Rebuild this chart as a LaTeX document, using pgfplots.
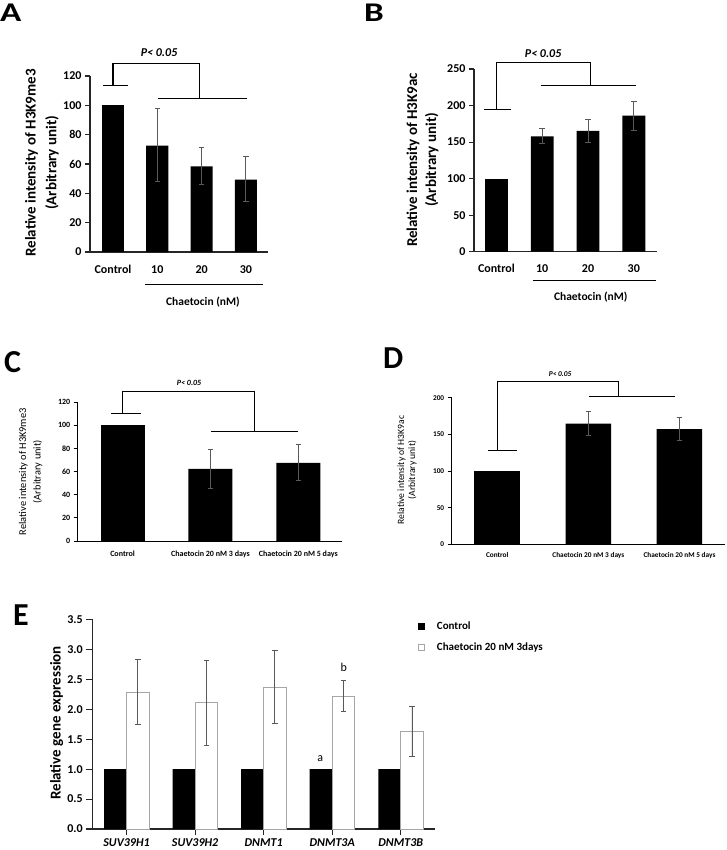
\documentclass[border=0pt]{standalone}
\usepackage{pgfplots}
\pgfplotsset{compat=1.18}
\usepackage{fontspec}
\setmainfont{Carlito}
\definecolor{errgray}{gray}{0.35}
\definecolor{bargray}{gray}{0.65}
\pgfplotsset{
  panel/.style={
    scale only axis, anchor=south west,
    axis x line=bottom, axis y line=left,
    axis line style={-, line width=1.1pt, black!85},
    tick align=outside, major tick length=5pt,
    ytick style={line width=1.1pt, black!85},
    xtick style={draw=none},
    clip=false, ymin=0,
    /pgf/number format/assume math mode=true,
    ybar, bar width=0.5, bar shift=0pt,
    ylabel style={anchor=center, align=center},
  },
  eb/.style={error bars/.cd, y dir=both, y explicit,
    error bar style={line width=0.8pt, errgray},
    error mark options={rotate=90, mark size=2.8pt, line width=0.8pt, errgray}},
}
\begin{document}
\begin{tikzpicture}
\useasboundingbox (0pt,0pt) rectangle (726pt,-850pt);

% ---------------- Panel A ----------------
\node[anchor=base west, inner sep=0, font=\bfseries\fontsize{27}{30}\selectfont] at (0pt,-21.7pt) {\scalebox{1.3}[1]{A}};
\begin{axis}[panel, at={(90pt,-252pt)}, width=178pt, height=176pt,
  xmin=-0.52, xmax=3.5, ymax=120, ytick={0,20,...,120},
  xtick={0,1,2,3}, xticklabels={Control,10,20,30},
  ticklabel style={font=\bfseries\fontsize{12}{14}\selectfont},
  xticklabel style={yshift=-5pt},
  ylabel={Relative intensity of H3K9me3\\(Arbitrary unit)},
  ylabel style={at={(axis description cs:-0.27,0.506)}, font=\bfseries\fontsize{15}{20.6}\selectfont}]
\addplot[fill=black, draw=none, eb] table[x=x, y=y, y error plus=ep, y error minus=em] {
x y ep em
1 72.5 25.2 24.5
2 58.4 12.7 12.3
3 49.3 15.7 15.0
};
\addplot[fill=black, draw=none] table[x=x, y=y] {
x y
0 100
};
\draw[line width=1.3pt] (axis cs:0,113.3) -- (axis cs:0,128.6) -- (axis cs:1.96,128.6) -- (axis cs:1.96,104.8);
\draw[line width=1.3pt] (axis cs:-0.23,113.3) -- (axis cs:0.33,113.3);
\draw[line width=1.3pt] (axis cs:1.02,104.8) -- (axis cs:3.02,104.8);
\node[font=\bfseries\itshape\fontsize{12}{14}\selectfont] at (axis cs:1.04,135.7) {P< 0.05};
\draw[line width=0.9pt] (axis cs:0.72,-21.8) -- (axis cs:3.39,-21.8);
\node[font=\bfseries\fontsize{11.5}{14}\selectfont] at (axis cs:2.03,-33.9) {Chaetocin (nM)};
\end{axis}

% ---------------- Panel B ----------------
\node[anchor=base west, inner sep=0, font=\bfseries\fontsize{27}{30}\selectfont] at (364pt,-21.7pt) {\scalebox{1.3}[1]{B}};
\begin{axis}[panel, at={(474pt,-251.7pt)}, width=182.7pt, height=182.7pt,
  xmin=-0.49, xmax=3.5, ymax=250, ytick={0,50,...,250},
  xtick={0,1,2,3}, xticklabels={Control,10,20,30},
  ticklabel style={font=\bfseries\fontsize{12}{14}\selectfont},
  xticklabel style={yshift=-4pt},
  ylabel={Relative intensity of H3K9ac\\(Arbitrary unit)},
  ylabel style={at={(axis description cs:-0.282,0.502)}, font=\bfseries\fontsize{15}{19}\selectfont}]
\addplot[fill=black, draw=none, eb] table[x=x, y=y, y error plus=ep, y error minus=em] {
x y ep em
1 157.9 11.0 10.1
2 165.2 16.0 15.5
3 186.1 20.1 20.0
};
\addplot[fill=black, draw=none] table[x=x, y=y] {
x y
0 100
};
\draw[line width=1.3pt] (axis cs:0,194.3) -- (axis cs:0,258.7) -- (axis cs:2.05,258.7) -- (axis cs:2.05,227.7);
\draw[line width=1.3pt] (axis cs:-0.27,194.3) -- (axis cs:0.31,194.3);
\draw[line width=1.3pt] (axis cs:0.97,227.7) -- (axis cs:3.04,227.7);
\node[font=\bfseries\itshape\fontsize{12}{14}\selectfont] at (axis cs:1.02,270.6) {P< 0.05};
\draw[line width=0.9pt] (axis cs:0.80,-39.1) -- (axis cs:3.48,-39.1);
\node[font=\bfseries\fontsize{11.5}{14}\selectfont] at (axis cs:2.06,-62.4) {Chaetocin (nM)};
\end{axis}

% ---------------- Panel C ----------------
\node[anchor=base west, inner sep=0, font=\bfseries\fontsize{32}{36}\selectfont] at (4pt,-372.5pt) {C};
\begin{axis}[panel, at={(77.7pt,-541pt)}, width=264.6pt, height=139pt,
  axis line style={-, line width=0.9pt, black},
  ytick style={line width=0.9pt, black}, major tick length=4pt,
  xmin=-0.51, xmax=2.5, ymax=120, ytick={0,20,...,120},
  xtick={0,1,2}, xticklabels={Control,Chaetocin 20 nM 3 days,Chaetocin 20 nM 5 days},
  ticklabel style={font=\bfseries\fontsize{8}{10}\selectfont},
  xticklabel style={yshift=-2pt},
  ylabel={Relative intensity of H3K9me3\\(Arbitrary unit)},
  ylabel style={at={(axis description cs:-0.178,0.499)}, font=\fontsize{10.4}{14.4}\selectfont}]
\addplot[fill=black, draw=none, eb] table[x=x, y=y, y error plus=ep, y error minus=em] {
x y ep em
1 62.2 16.7 17.0
2 67.4 15.8 15.3
};
\addplot[fill=black, draw=none] table[x=x, y=y] {
x y
0 100
};
\draw[line width=1pt] (axis cs:0,110) -- (axis cs:0,129.5) -- (axis cs:1.504,129.5) -- (axis cs:1.504,94.4);
\draw[line width=1pt] (axis cs:-0.134,110) -- (axis cs:0.207,110);
\draw[line width=1pt] (axis cs:1.01,94.4) -- (axis cs:2.0,94.4);
\node[font=\bfseries\itshape\fontsize{8}{10}\selectfont] at (axis cs:0.757,136.7) {P< 0.05};
\end{axis}

% ---------------- Panel D ----------------
\node[anchor=base west, inner sep=0, font=\bfseries\fontsize{32}{36}\selectfont] at (383pt,-368pt) {D};
\begin{axis}[panel, at={(451.7pt,-544.3pt)}, width=273.3pt, height=146.6pt,
  axis line style={-, line width=0.9pt, black},
  ytick style={line width=0.9pt, black}, major tick length=4pt,
  xmin=-0.5, xmax=2.5, ymax=200, ytick={0,50,...,200},
  xtick={0,1,2}, xticklabels={Control,Chaetocin 20 nM 3 days,Chaetocin 20 nM 5 days},
  ticklabel style={font=\bfseries\fontsize{7.3}{9}\selectfont},
  xticklabel style={yshift=-1pt},
  ylabel={Relative intensity of H3K9ac\\(Arbitrary unit)},
  ylabel style={at={(axis description cs:-0.163,0.507)}, font=\fontsize{9.6}{11}\selectfont}]
\addplot[fill=black, draw=none, eb] table[x=x, y=y, y error plus=ep, y error minus=em] {
x y ep em
1 164.5 16.4 15.8
2 157.3 16.4 15.9
};
\addplot[fill=black, draw=none] table[x=x, y=y] {
x y
0 100
};
\draw[line width=1pt] (axis cs:0,127.7) -- (axis cs:0,222.3) -- (axis cs:1.336,222.3) -- (axis cs:1.336,202.3);
\draw[line width=1pt] (axis cs:-0.104,127.7) -- (axis cs:0.213,127.7);
\draw[line width=1pt] (axis cs:1.01,202.3) -- (axis cs:1.95,202.3);
\node[font=\bfseries\itshape\fontsize{7.4}{9}\selectfont] at (axis cs:0.69,231.9) {P< 0.05};
\end{axis}

% ---------------- Panel E ----------------
\node[anchor=base west, inner sep=0, font=\bfseries\fontsize{32}{36}\selectfont] at (13pt,-625pt) {E};
\begin{axis}[panel, at={(92.3pt,-829pt)}, width=342.7pt, height=209.6pt,
  axis line style={-, line width=1.2pt, black!85},
  tick style={line width=1.2pt, black!85}, major tick length=6pt,
  xtick style={draw=black!85},
  xmin=-0.5, xmax=4.5, ymax=3.5, ytick={0,0.5,...,3.5},
  y tick label style={/pgf/number format/fixed, /pgf/number format/fixed zerofill, /pgf/number format/precision=1, font=\bfseries\fontsize{12}{14}\selectfont},
  xtick={0,1,2,3,4}, xticklabels={SUV39H1,SUV39H2,DNMT1,DNMT3A,DNMT3B},
  x tick label style={font=\bfseries\itshape\fontsize{12}{14}\selectfont},
  bar width=0.328,
  ylabel={Relative gene expression},
  ylabel style={at={(axis description cs:-0.104,0.506)}, font=\bfseries\fontsize{15}{18}\selectfont},
  legend style={at={(axis description cs:0.94,1.01)}, anchor=north west, draw=none, fill=none,
    font=\bfseries\fontsize{11}{13}\selectfont, row sep=8pt, cells={anchor=west}},
  legend image code/.code={\draw[#1, line width=0.6pt] (0pt,-3pt) rectangle (6pt,3pt); \path[draw=none, fill=none] (0pt,0pt) -- (17pt,0pt);}]
\addplot[fill=black, draw=none] table[x=x, y=y] {
x y
-0.164 1
0.836 1
1.836 1
2.836 1
3.836 1
};
\addlegendentry{Control}
\addplot[fill=white, draw=bargray, line width=0.9pt, eb] table[x=x, y=y, y error plus=ep, y error minus=em] {
x y ep em
0.164 2.28 0.55 0.54
1.164 2.11 0.71 0.71
2.164 2.37 0.61 0.61
3.164 2.22 0.26 0.26
4.164 1.63 0.42 0.41
};
\addlegendentry{Chaetocin 20 nM 3days}
\node[font=\fontsize{12}{14}\selectfont] at (axis cs:2.824,1.18) {a};
\node[font=\fontsize{12}{14}\selectfont] at (axis cs:3.168,2.70) {b};
\end{axis}
\end{tikzpicture}
\end{document}
